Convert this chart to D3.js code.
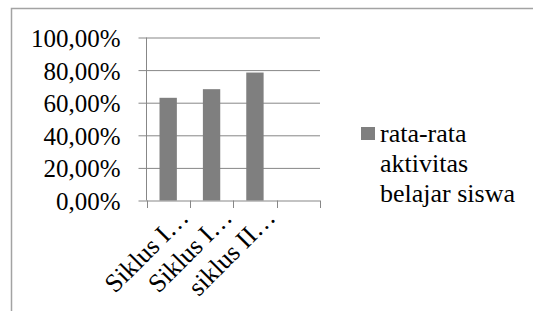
<!DOCTYPE html>
<html>
<head>
<meta charset="utf-8">
<script src="https://cdn.jsdelivr.net/npm/d3@7"></script>
<style>
  body { margin: 0; background: #fff; }
</style>
</head>
<body>
<div id="chart"></div>
<script>
// chart data
const categories = ["Siklus I…", "Siklus I…", "siklus II…", ""]
const values = [0.63, 0.683, 0.785, null]
const yTicks = [0, 0.2, 0.4, 0.6, 0.8, 1.0]
const seriesName = ["rata-rata", "aktivitas", "belajar siswa"]

const serif = "Liberation Serif"

let width = 533,
    height = 311;

let svg = d3.select("#chart")
    .append("svg")
    .attr("width", width)
    .attr("height", height)
    .style("font-family", serif)

// outer frame (runs off the right and bottom edge like the original)
svg.append("rect")
    .attr("x", 11.5)
    .attr("y", 8.5)
    .attr("width", 600)
    .attr("height", 400)
    .attr("fill", "none")
    .attr("stroke", "#a3a3a3")
    .attr("stroke-width", 1.5)

let plotLeft = 146.5, plotRight = 320, plotTop = 37.5, plotBottom = 200.5

let x = d3.scaleBand()
    .domain(d3.range(categories.length))
    .range([plotLeft, plotRight])
    .paddingInner(0.6)
    .paddingOuter(0.3)

let y = d3.scaleLinear()
    .domain([0, 1])
    .range([plotBottom, plotTop])

let comma = d3.formatLocale({ decimal: ",", thousands: ".", grouping: [3], currency: ["", ""] })
let fmt = comma.format(".2%")

// gridlines + y ticks
let yAxis = d3.axisLeft(y)
    .tickValues(yTicks)
    .tickSize(-(plotRight - plotLeft))
    .tickFormat("")

let gy = svg.append("g")
    .attr("transform", `translate(${plotLeft},0)`)
    .call(yAxis)
gy.select(".domain").remove()
gy.selectAll(".tick line")
    .attr("stroke", "#878787")
    .attr("x1", -8)

gy.selectAll(".tick")
    .append("text")
    .attr("x", -26)
    .attr("dy", 9)
    .attr("text-anchor", "end")
    .attr("fill", "#000")
    .style("font-size", "25px")
    .style("font-family", serif)
    .text(d => fmt(d))

// y axis line
svg.append("line")
    .attr("x1", plotLeft).attr("x2", plotLeft)
    .attr("y1", plotTop).attr("y2", plotBottom)
    .attr("stroke", "#878787")

// bars
svg.selectAll(".bar")
    .data(values.map((v, i) => ({ v: v, i: i })).filter(d => d.v != null))
    .enter().append("rect")
    .attr("class", "bar")
    .attr("x", d => x(d.i))
    .attr("width", x.bandwidth())
    .attr("y", d => y(d.v))
    .attr("height", d => plotBottom - y(d.v))
    .attr("fill", "#7f7f7f")

// x ticks at category boundaries
let bounds = d3.range(categories.length + 1).map(i => plotLeft + i * (plotRight - plotLeft) / categories.length)
svg.selectAll(".xtick")
    .data(bounds)
    .enter().append("line")
    .attr("x1", d => Math.round(d) + 0.5)
    .attr("x2", d => Math.round(d) + 0.5)
    .attr("y1", plotBottom)
    .attr("y2", plotBottom + 7.5)
    .attr("stroke", "#878787")

// x labels, rotated
svg.selectAll(".xlabel")
    .data(categories)
    .enter().append("text")
    .attr("text-anchor", "end")
    .style("font-size", "26px")
    .style("font-family", serif)
    .attr("transform", (d, i) => `translate(${x(i) + x.bandwidth() / 2 + 22},219) rotate(-45)`)
    .text(d => d)

// legend
svg.append("rect")
    .attr("x", 361)
    .attr("y", 127)
    .attr("width", 14)
    .attr("height", 13)
    .attr("fill", "#7f7f7f")

svg.append("text")
    .style("font-size", "26px")
    .style("font-family", serif)
    .selectAll("tspan")
    .data(seriesName)
    .enter().append("tspan")
    .attr("x", 380)
    .attr("y", (d, i) => 142 + i * 30)
    .text(d => d)
</script>
</body>
</html>
